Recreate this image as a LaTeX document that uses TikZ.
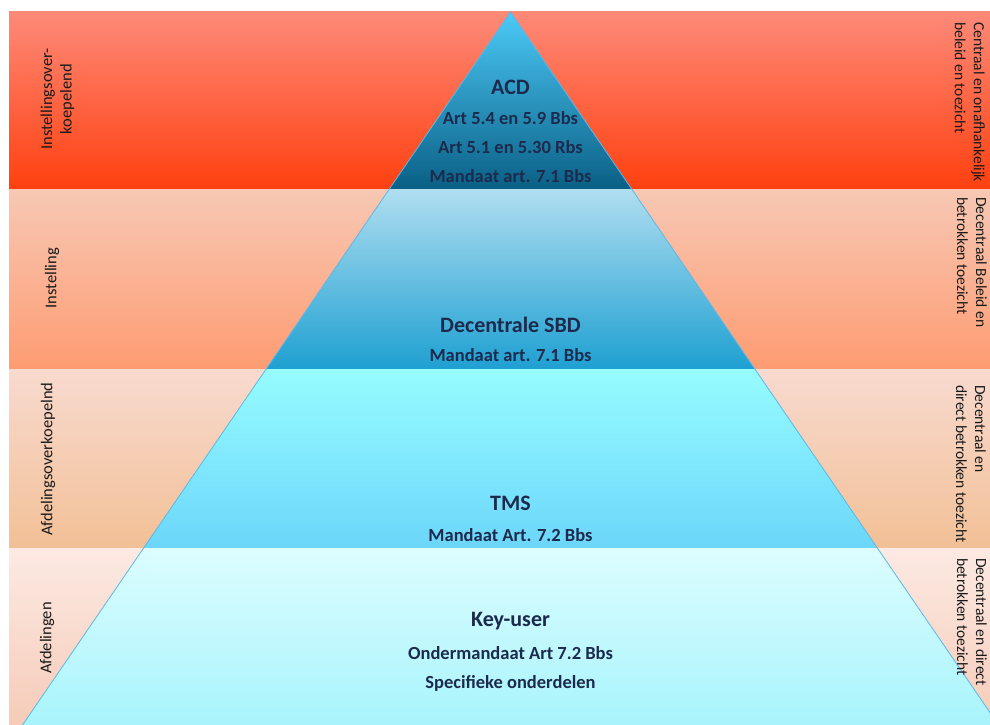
\documentclass[tikz,border=0pt]{standalone}
\usepackage{fontspec}
\setmainfont{Carlito}
\definecolor{bAt}{HTML}{FD8A78}
\definecolor{bAb}{HTML}{FF4010}
\definecolor{bBt}{HTML}{F7C8B4}
\definecolor{bBb}{HTML}{FE9C72}
\definecolor{bCt}{HTML}{F8DACF}
\definecolor{bCb}{HTML}{F2C096}
\definecolor{bDt}{HTML}{FCEAE3}
\definecolor{bDb}{HTML}{F6CBB8}
\definecolor{pAt}{HTML}{4CCAF7}
\definecolor{pAm}{HTML}{05A6DE}
\definecolor{pAb}{HTML}{0A5F85}
\definecolor{pBt}{HTML}{B0DEF0}
\definecolor{pBb}{HTML}{1EA0D2}
\definecolor{pCt}{HTML}{96FCFF}
\definecolor{pCb}{HTML}{6CD6FA}
\definecolor{pDt}{HTML}{DCFDFF}
\definecolor{pDb}{HTML}{A8F4FC}
\definecolor{edge}{HTML}{5BB8E8}
\definecolor{navy}{HTML}{1C2B4D}
\definecolor{labtext}{HTML}{1A1A1A}
\begin{document}
\begin{tikzpicture}[x=1pt,y=-1pt,
  title/.style={font=\bfseries\fontsize{22}{26}\selectfont, text=navy, inner sep=0pt},
  mainline/.style={font=\bfseries\fontsize{18.5}{22}\selectfont, text=navy, inner sep=0pt},
  leftlab/.style={font=\fontsize{16.5}{19.5}\selectfont, text=labtext, rotate=90, align=center, inner sep=0pt},
  rightlab/.style={font=\fontsize{15.5}{19}\selectfont, text=labtext, rotate=-90, align=left, anchor=north west, inner sep=0pt}]
\useasboundingbox (0,0) rectangle (990,725);
% bands
\shade[top color=bAt, bottom color=bAb] (9,12) rectangle (990,189);
\shade[top color=bBt, bottom color=bBb] (9,189) rectangle (990,369);
\shade[top color=bCt, bottom color=bCb] (9,369) rectangle (990,548);
\shade[top color=bDt, bottom color=bDb] (9,548) rectangle (990,725);
% pyramid
\begin{scope}
\clip (9,0) rectangle (990,725);
\coordinate (apex) at (510.5,12);
\coordinate (l1) at (389.3,189); \coordinate (r1) at (631.7,189);
\coordinate (l2) at (266.1,369); \coordinate (r2) at (754.9,369);
\coordinate (l3) at (143.6,548); \coordinate (r3) at (877.4,548);
\coordinate (l4) at (22.5,725);  \coordinate (r4) at (998.5,725);
\shade[top color=pAt, middle color=pAm, bottom color=pAb] (apex) -- (r1) -- (l1) -- cycle;
\shade[top color=pBt, bottom color=pBb] (l1) -- (r1) -- (r2) -- (l2) -- cycle;
\shade[top color=pCt, bottom color=pCb] (l2) -- (r2) -- (r3) -- (l3) -- cycle;
\shade[top color=pDt, bottom color=pDb] (l3) -- (r3) -- (r4) -- (l4) -- cycle;
\draw[edge, line width=0.8pt] (l4) -- (apex) -- (r4);
\end{scope}
% centre texts
\node[title]    (acd)  at (510.5,87)  {ACD};
\node[mainline] (acd1) at (510.5,118) {Art 5.4 en 5.9 Bbs};
\node[mainline] (acd2) at (510.5,147) {Art 5.1 en 5.30 Rbs};
\node[mainline] (acd3) at (510.5,176) {Mandaat art. 7.1 Bbs};
\node[title]    (sbd)  at (510.5,325) {Decentrale SBD};
\node[mainline] (sbd1) at (510.5,355) {Mandaat art. 7.1 Bbs};
\node[title]    (tms)  at (510.5,503) {TMS};
\node[mainline] (tms1) at (510.5,535) {Mandaat Art. 7.2 Bbs};
\node[title]    (key)  at (510.5,621) {Key-user};
\node[mainline] (key1) at (510.5,653) {Ondermandaat Art 7.2 Bbs};
\node[mainline] (key2) at (510.5,683) {Specifieke onderdelen};
% left labels
\node[leftlab] (lA) at (57.5,99) {Instellingsover-\\koepelend};
\node[leftlab] (lB) at (52,278) {Instelling};
\node[leftlab] (lC) at (48,459) {Afdelingsoverkoepelnd};
\node[leftlab] (lD) at (47,638) {Afdelingen};
% right labels
\node[rightlab] (rA) at (985,22)  {Centraal en onafhankelijk\\beleid en toezicht};
\node[rightlab] (rB) at (987,197) {Decentraal Beleid en\\betrokken toezicht};
\node[rightlab] (rC) at (986,385) {Decentraal en\\direct betrokken toezicht};
\node[rightlab] (rD) at (987,558) {Decentraal en direct\\betrokken toezicht};
\end{tikzpicture}
\end{document}
